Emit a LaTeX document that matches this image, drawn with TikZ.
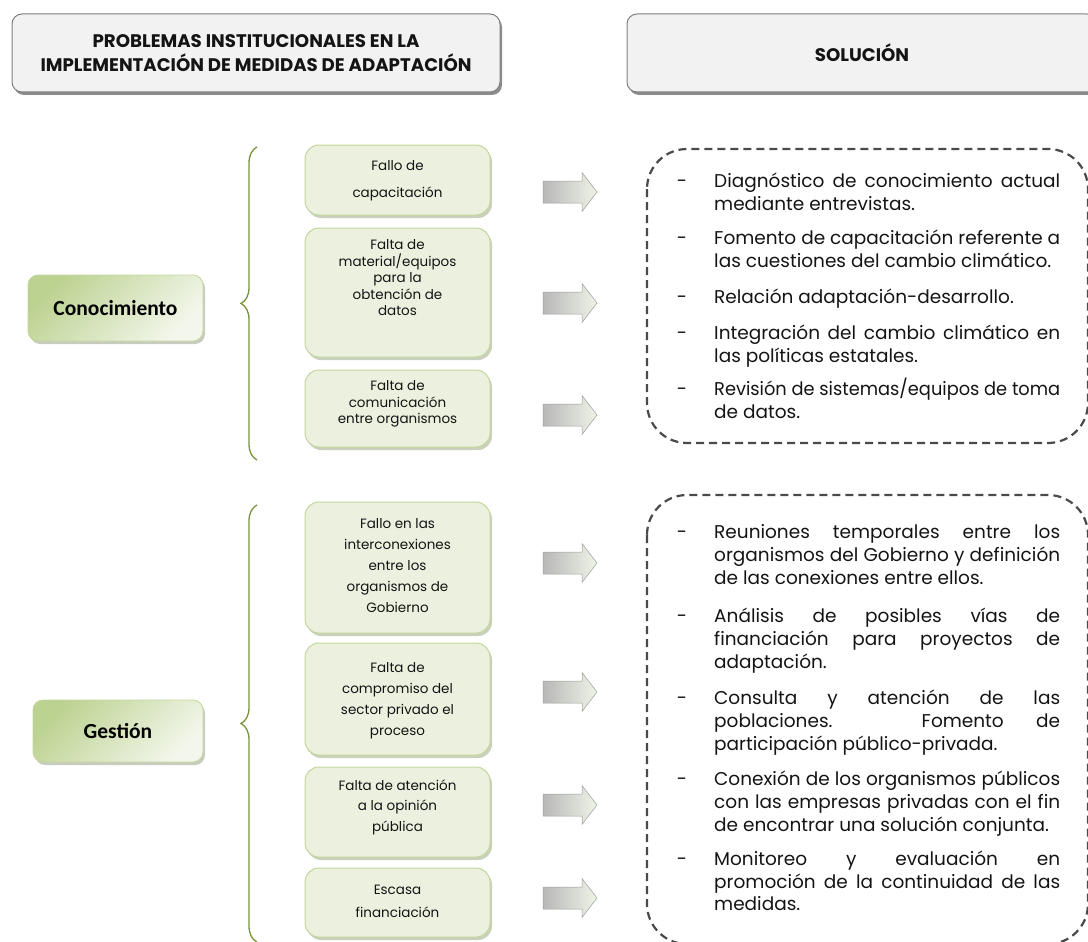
\documentclass[tikz,border=0pt]{standalone}
\usepackage{fontspec}
\usepackage{graphicx}
\setmainfont{Poppins}
\newfontfamily\carlitofont{Carlito}
\usetikzlibrary{shadows,decorations.pathreplacing}
\definecolor{hdrfill}{HTML}{F2F2F2}
\definecolor{hdrline}{HTML}{7F7F7F}
\definecolor{gfill}{HTML}{EBF1DE}
\definecolor{gline}{HTML}{C3D69B}
\definecolor{gdeep}{HTML}{BCD290}
\definecolor{bracecol}{HTML}{77933C}
\definecolor{dashcol}{HTML}{4A4A4A}
\definecolor{arrowL}{HTML}{B8B8B8}
\definecolor{arrowR}{HTML}{EEF3E6}
\definecolor{txt}{HTML}{141414}
\newcommand\jl[1]{\sbox0{#1}\ifdim\wd0>346pt \resizebox{346pt}{\height}{#1}\else\makebox[346pt][s]{#1}\fi}
\newcommand\sol[3]{\node[soltext] (#1) at (714,#2) {#3};}
\newcommand\soldsh[2]{\node[soldash] (#1) at (682,#2) {-};}
\begin{document}
\begin{tikzpicture}[x=1pt,y=-1pt,
  hdrbox/.style={draw=hdrline, fill=hdrfill, rounded corners=10pt, line width=1pt, inner sep=0pt, align=center, text=txt,
     drop shadow={shadow xshift=2pt, shadow yshift=-3pt, fill=black, opacity=0.45}},
  topicbox/.style={draw=gline, line width=0.8pt, rounded corners=10pt, top color=gdeep, bottom color=gfill!60!white, shading angle=45, inner sep=0pt, font=\carlitofont\fontsize{21.5}{24}\selectfont\bfseries, text=black, drop shadow={shadow xshift=2pt, shadow yshift=-3pt, fill=gline!60!black, opacity=0.4}},
  probbox/.style={draw=gline, line width=1pt, fill=gfill, rounded corners=14pt, minimum width=185pt, inner sep=0pt, drop shadow={shadow xshift=2pt, shadow yshift=-3pt, fill=gline!70!black, opacity=0.45}},
  probtext/.style={align=center, inner sep=0pt, text=txt},
  soltext/.style={anchor=base west, inner sep=0pt, text=txt, font=\fontsize{18.5}{23}\selectfont},
  soldash/.style={anchor=base, inner sep=0pt, text=txt, font=\fontsize{18.5}{23}\selectfont},
  dashbox/.style={draw=dashcol, line width=2.2pt, dash pattern=on 8pt off 5pt, rounded corners=40pt},
  bracestyle/.style={draw=bracecol, line width=1.3pt, decorate, decoration={brace, amplitude=16pt}},
  fatarrow/.pic={\shade[left color=arrowL, right color=arrowR, draw=arrowL!85!black, line width=0.5pt] (-27,-11) -- (12,-11) -- (12,-19.5) -- (27,0) -- (12,19.5) -- (12,11) -- (-27,11) -- cycle;}
]
\useasboundingbox (0,0) rectangle (1088,942);
\clip (0,0) rectangle (1088,942);

% headers
\node[hdrbox, minimum width=488pt, minimum height=78pt, font=\fontsize{18.2}{24}\selectfont\bfseries] (hdrL) at (256,53)
  {PROBLEMAS INSTITUCIONALES EN LA\\IMPLEMENTACIÓN DE MEDIDAS DE ADAPTACIÓN};
\node[hdrbox, minimum width=470pt, minimum height=78pt, font=\fontsize{18.2}{24}\selectfont\bfseries] (hdrR) at (862,53) {SOLUCIÓN};

% topics
\node[topicbox, minimum width=175pt, minimum height=66pt] (conoc) at (115.5,308) {Conocimiento};
\node[topicbox, minimum width=170pt, minimum height=62pt] (gest) at (118,731) {Gestión};

% braces
\coordinate (b1a) at (257,460);
\coordinate (b1b) at (257,147);
\coordinate (b2a) at (257,942);
\coordinate (b2b) at (257,505);
\draw[bracestyle] (b1a) -- (b1b);
\draw[bracestyle] (b2a) -- (b2b);

% problem boxes
\node[probbox, minimum height=70pt] (p1) at (397.5,180) {};
\node[probtext, font=\fontsize{13.5}{27}\selectfont] (p1t) at (397.5,181) {Fallo de\\capacitación};
\node[probbox, minimum height=129pt] (p2) at (397.5,292.5) {};
\node[probtext, font=\fontsize{13.5}{16.5}\selectfont] (p2t) at (397.5,278) {Falta de\\material/equipos\\para la\\obtención de\\datos};
\node[probbox, minimum height=77pt] (p3) at (397.5,408.5) {};
\node[probtext, font=\fontsize{13.5}{16.5}\selectfont] (p3t) at (397.5,404) {Falta de\\comunicación\\entre organismos};
\node[probbox, minimum height=131pt] (p4) at (397.5,567.5) {};
\node[probtext, font=\fontsize{13.5}{21}\selectfont] (p4t) at (397.5,566) {Fallo en las\\interconexiones\\entre los\\organismos de\\Gobierno};
\node[probbox, minimum height=112pt] (p5) at (397.5,699) {};
\node[probtext, font=\fontsize{13.5}{21}\selectfont] (p5t) at (397.5,701) {Falta de\\compromiso del\\sector privado el\\proceso};
\node[probbox, minimum height=90pt] (p6) at (397.5,812) {};
\node[probtext, font=\fontsize{13.5}{20.5}\selectfont] (p6t) at (397.5,807) {Falta de atención\\a la opinión\\pública};
\node[probbox, minimum height=69pt] (p7) at (397.5,902.5) {};
\node[probtext, font=\fontsize{13.5}{23}\selectfont] (p7t) at (397.5,901) {Escasa\\financiación};

% arrows
\pic (a1) at (570,192) {fatarrow};
\pic (a2) at (570,303) {fatarrow};
\pic (a3) at (570,415) {fatarrow};
\pic (a4) at (570,563) {fatarrow};
\pic (a5) at (570,692) {fatarrow};
\pic (a6) at (570,805) {fatarrow};
\pic (a7) at (570,898) {fatarrow};

% dashed boxes
\draw[dashbox] (647,149) rectangle (1088,443);
\draw[dashbox] (647,495) rectangle (1088,944);

% solutions 1
\soldsh{d1}{187}\sol{s1a}{187}{\jl{Diagnóstico de conocimiento actual}}
\sol{s1b}{210}{mediante entrevistas.}
\soldsh{d2}{244}\sol{s2a}{244}{\jl{Fomento de capacitación referente a}}
\sol{s2b}{267}{las cuestiones del cambio climático.}
\soldsh{d3}{303}\sol{s3a}{303}{Relación adaptación-desarrollo.}
\soldsh{d4}{339}\sol{s4a}{339}{\jl{Integración del cambio climático en}}
\sol{s4b}{362}{las políticas estatales.}
\soldsh{d5}{395}\sol{s5a}{395}{\jl{Revisión de sistemas/equipos de toma}}
\sol{s5b}{418}{de datos.}

% solutions 2
\soldsh{e1}{538}\sol{t1a}{538}{\jl{Reuniones temporales entre los}}
\sol{t1b}{561}{\jl{organismos del Gobierno y definición}}
\sol{t1c}{584}{de las conexiones entre ellos.}
\soldsh{e2}{622}\sol{t2a}{622}{\jl{Análisis de posibles vías de}}
\sol{t2b}{645}{\jl{financiación para proyectos de}}
\sol{t2c}{668}{adaptación.}
\soldsh{e3}{704}\sol{t3a}{704}{\jl{Consulta y atención de las}}
\sol{t3b}{727}{\jl{poblaciones. Fomento de}}
\sol{t3c}{750}{participación público-privada.}
\soldsh{e4}{785}\sol{t4a}{785}{\jl{Conexión de los organismos públicos}}
\sol{t4b}{808}{\jl{con las empresas privadas con el fin}}
\sol{t4c}{831}{de encontrar una solución conjunta.}
\soldsh{e5}{865}\sol{t5a}{865}{\jl{Monitoreo y evaluación en}}
\sol{t5b}{888}{\jl{promoción de la continuidad de las}}
\sol{t5c}{910}{medidas.}
\end{tikzpicture}
\end{document}
